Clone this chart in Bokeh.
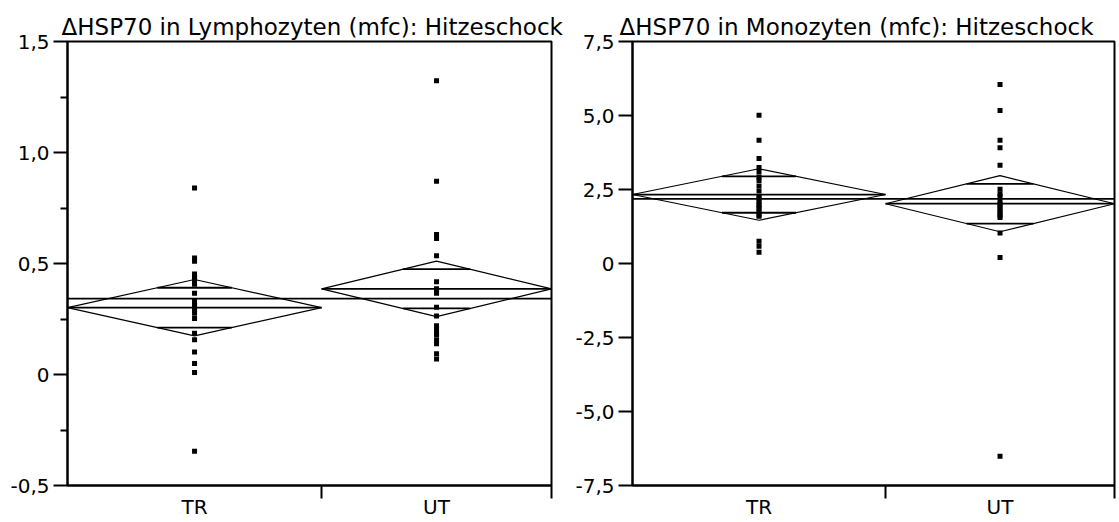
import math
from bokeh.plotting import figure
from bokeh.layouts import row
from bokeh.models import Range1d, FixedTicker, CustomJSTickFormatter
from bokeh.embed import file_html
from bokeh.resources import INLINE

# ---------------- data ----------------
categories = ["TR", "UT"]

lym_title = "\u0394HSP70 in Lymphozyten (mfc): Hitzeschock"
lym_tr = [0.84, 0.525, 0.51, 0.453, 0.44, 0.433, 0.42, 0.407, 0.366, 0.33, 0.313,
          0.31, 0.291, 0.276, 0.252, 0.186, 0.157, 0.101, 0.049, 0.009, -0.346]
lym_ut = [1.323, 0.871, 0.631, 0.613, 0.535, 0.418, 0.386, 0.38, 0.366, 0.303,
          0.264, 0.22, 0.201, 0.183, 0.18, 0.157, 0.139, 0.094, 0.07]
lym_means = [0.301, 0.386]
lym_ci = [0.127, 0.125]
lym_yticks = [-0.5, 0.0, 0.5, 1.0, 1.5]
lym_yminor = [-0.25, 0.25, 0.75, 1.25]

mono_title = "\u0394HSP70 in Monozyten (mfc): Hitzeschock"
mono_tr = [5.01, 4.16, 3.55, 3.24, 3.10, 2.92, 2.80, 2.62, 2.45, 2.26, 2.20,
           2.10, 2.00, 1.93, 1.85, 1.76, 1.64, 1.60, 0.75, 0.58, 0.38]
mono_ut = [6.05, 5.17, 4.16, 3.91, 3.32, 2.51, 2.35, 2.26, 2.10, 2.00, 1.93,
           1.85, 1.76, 1.70, 1.61, 1.55, 1.03, 0.20, -6.51]
mono_means = [2.33, 2.02]
mono_ci = [0.87, 0.947]
mono_yticks = [-7.5, -5.0, -2.5, 0.0, 2.5, 5.0, 7.5]
mono_yminor = []

FONT = "DejaVu Sans"


def make_panel(title, groups, means, cis, yticks, yminor, width, mbl, mbr, toff):
    ns = [len(g) for g in groups]
    total = sum(ns)
    bounds = [0]
    for n in ns:
        bounds.append(bounds[-1] + n)
    centers = [(bounds[i] + bounds[i + 1]) / 2 for i in range(len(ns))]

    p = figure(width=width, height=521,
               x_range=Range1d(0, total), y_range=Range1d(yticks[0], yticks[-1]),
               output_backend="svg", toolbar_location=None,
               min_border_left=mbl, min_border_right=mbr,
               min_border_top=41, min_border_bottom=33)
    p.grid.visible = False
    p.outline_line_color = "black"
    p.outline_line_width = 2
    p.background_fill_color = "white"
    p.border_fill_color = "white"

    p.title.text = title
    p.title.align = "left"
    p.title.offset = toff
    p.title.text_font = FONT
    p.title.text_font_size = "23px"
    p.title.text_font_style = "normal"
    p.title.text_color = "black"
    p.title.standoff = 3

    # y axis
    ya = p.yaxis[0]
    ya.ticker = FixedTicker(ticks=yticks, minor_ticks=yminor)
    ya.formatter = CustomJSTickFormatter(
        code="return Math.abs(tick) < 1e-9 ? '0' : tick.toFixed(1).replace('.', ',');")
    ya.axis_line_width = 2
    ya.major_tick_line_width = 2
    ya.minor_tick_line_width = 2
    ya.major_tick_out = 14
    ya.major_tick_in = 0
    ya.minor_tick_out = 7
    ya.minor_tick_in = 0
    ya.major_label_text_font = FONT
    ya.major_label_text_font_size = "20px"
    ya.major_label_text_color = "black"
    ya.major_label_standoff = 4

    # x axis
    xa = p.xaxis[0]
    xa.ticker = FixedTicker(ticks=centers, minor_ticks=bounds[1:])
    xa.formatter = CustomJSTickFormatter(
        args=dict(pos=centers, labels=categories),
        code="for (let i = 0; i < pos.length; i++) { if (Math.abs(tick - pos[i]) < 1e-6) return labels[i]; } return '';")
    xa.axis_line_width = 2
    xa.major_tick_out = 0
    xa.major_tick_in = 0
    xa.minor_tick_out = 13
    xa.minor_tick_in = 0
    xa.minor_tick_line_width = 2
    xa.major_label_text_font = FONT
    xa.major_label_text_font_size = "20px"
    xa.major_label_text_color = "black"
    xa.major_label_standoff = -4

    grand = sum(n * m for n, m in zip(ns, means)) / total
    k = 1 / math.sqrt(2)

    dx, dy = [], []
    mx0, mx1, my = [], [], []
    ox0, ox1, oy = [], [], []
    for i, g in enumerate(groups):
        x0, x1, xc = bounds[i], bounds[i + 1], centers[i]
        m, c = means[i], cis[i]
        dx.append([x0, xc, x1, xc])
        dy.append([m, m + c, m, m - c])
        mx0.append(x0); mx1.append(x1); my.append(m)
        hw = (x1 - x0) / 2 * (1 - k)
        for s in (1, -1):
            ox0.append(xc - hw); ox1.append(xc + hw); oy.append(m + s * c * k)
        p.scatter([xc] * len(g), g, marker="square", size=5,
                  fill_color="black", line_color=None)

    p.patches(dx, dy, fill_color=None, line_color="black", line_width=1.2)
    p.segment(mx0, my, mx1, my, line_color="black", line_width=1.8)
    p.segment(ox0, oy, ox1, oy, line_color="black", line_width=1.8)
    p.segment([0], [grand], [total], [grand], line_color="black", line_width=1.8)
    return p


p1 = make_panel(lym_title, [lym_tr, lym_ut], lym_means, lym_ci,
                lym_yticks, lym_yminor, width=572, mbl=67, mbr=21, toff=-6)
p2 = make_panel(mono_title, [mono_tr, mono_ut], mono_means, mono_ci,
                mono_yticks, mono_yminor, width=546, mbl=60, mbr=4, toff=-13)

layout = row(p1, p2)
open("out.html", "w").write(file_html(layout, INLINE))
